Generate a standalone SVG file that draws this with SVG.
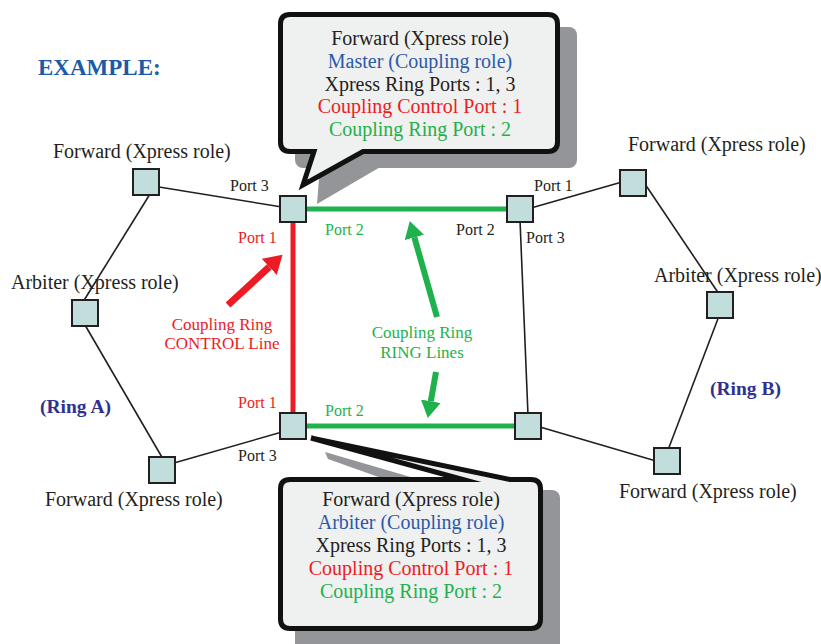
<svg xmlns="http://www.w3.org/2000/svg" width="821" height="644" viewBox="0 0 821 644">
<style>
text{font-family:"Liberation Serif","Times New Roman",serif;}
.lbl{font-size:20px;fill:#231f20;}
.port{font-size:16px;fill:#231f20;}
.red{fill:#ed1c24;}
.green{fill:#1fb14c;}
.blue{fill:#2b5aa8;}
.ring{font-size:19.5px;font-weight:bold;fill:#2e3192;}
.node{fill:#c1dedd;stroke:#231f20;stroke-width:2;}
.thin{stroke:#231f20;stroke-width:1.6;fill:none;}
.callout{fill:#eff0f0;stroke:#111;stroke-width:5;stroke-linejoin:miter;stroke-miterlimit:10;}
.shadow{fill:#939598;}
.ct{font-size:20px;text-anchor:middle;}
</style>
<defs>
<marker id="headR" markerUnits="userSpaceOnUse" markerWidth="20" markerHeight="24" refX="0" refY="11" orient="auto" viewBox="0 0 20 22">
<path d="M0,0 L18,11 L0,22 z" fill="#ed1c24"/>
</marker>
<marker id="headG" markerUnits="userSpaceOnUse" markerWidth="20" markerHeight="24" refX="0" refY="10" orient="auto" viewBox="0 0 20 20">
<path d="M0,0 L17,10 L0,20 z" fill="#1fb14c"/>
</marker>
</defs>
<rect width="821" height="644" fill="#ffffff"/>

<text x="38" y="75" style="font-size:23px;font-weight:bold;fill:#1c5aa6">EXAMPLE:</text>

<!-- callout shadows -->
<g id="shadows">
<rect class="shadow" x="295" y="27" width="282" height="141" rx="8"/>
<polygon class="shadow" points="320,166 317,204 382,166"/>
<rect class="shadow" x="295" y="490" width="265" height="170" rx="8"/>
<polygon class="shadow" points="325,452 328,459 415,490 455,490"/>
</g>

<g id="connectors">
<line class="thin" x1="159" y1="187" x2="282" y2="207"/>
<line class="thin" x1="150" y1="194" x2="83" y2="302"/>
<line class="thin" x1="85" y1="325" x2="163" y2="459"/>
<line class="thin" x1="174" y1="463" x2="282" y2="432"/>
<line class="thin" x1="531" y1="208" x2="622" y2="182"/>
<line class="thin" x1="645" y1="184" x2="719" y2="294"/>
<line class="thin" x1="719" y1="316" x2="668" y2="450"/>
<line class="thin" x1="656" y1="461" x2="540" y2="427"/>
<line class="thin" x1="520" y1="220" x2="528" y2="415"/>
<line x1="293" y1="209" x2="293" y2="426" stroke="#ed1c24" stroke-width="5"/>
<line x1="293" y1="209" x2="520" y2="209" stroke="#1fb14c" stroke-width="5"/>
<line x1="293" y1="426" x2="528" y2="426" stroke="#1fb14c" stroke-width="5"/>
<line x1="228" y1="305" x2="269.3" y2="266.9" stroke="#ed1c24" stroke-width="7" marker-end="url(#headR)"/>
<line x1="437" y1="317" x2="414.4" y2="237.4" stroke="#1fb14c" stroke-width="6" marker-end="url(#headG)"/>
<line x1="436" y1="372" x2="430.8" y2="401.2" stroke="#1fb14c" stroke-width="6" marker-end="url(#headG)"/>
</g>

<!-- Ring A -->
<g id="ringA-forward-top">
<rect class="node" x="133" y="169" width="26" height="26"/>
<text class="lbl" x="53" y="158">Forward (Xpress role)</text>
</g>
<g id="ringA-arbiter">
<rect class="node" x="72" y="300" width="26" height="26"/>
<text class="lbl" x="11" y="289">Arbiter (Xpress role)</text>
</g>
<g id="ringA-forward-bottom">
<rect class="node" x="149" y="457" width="26" height="26"/>
<text class="lbl" x="45" y="506">Forward (Xpress role)</text>
</g>
<text class="ring" x="40" y="413">(Ring A)</text>

<g id="coupling-master">
<rect class="node" x="280" y="196" width="26" height="26"/>
<text class="port" x="230" y="191">Port 3</text>
<text class="port red" x="238" y="243">Port 1</text>
<text class="port green" x="325" y="235">Port 2</text>
</g>
<g id="coupling-arbiter">
<rect class="node" x="280" y="413" width="26" height="26"/>
<text class="port red" x="238" y="408">Port 1</text>
<text class="port" x="238" y="461">Port 3</text>
<text class="port green" x="325" y="416">Port 2</text>
</g>

<!-- Ring B -->
<g id="ringB-coupling-top">
<rect class="node" x="507" y="196" width="26" height="26"/>
<text class="port" x="534" y="191">Port 1</text>
<text class="port" x="526" y="243">Port 3</text>
<text class="port" x="456" y="235">Port 2</text>
</g>
<g id="ringB-forward-top">
<rect class="node" x="620" y="170" width="26" height="26"/>
<text class="lbl" x="628" y="151">Forward (Xpress role)</text>
</g>
<g id="ringB-arbiter">
<rect class="node" x="707" y="292" width="26" height="26"/>
<text class="lbl" x="654" y="282">Arbiter (Xpress role)</text>
</g>
<g id="ringB-forward-bottom">
<rect class="node" x="654" y="448" width="26" height="26"/>
<text class="lbl" x="619" y="498">Forward (Xpress role)</text>
</g>
<g id="ringB-coupling-bottom">
<rect class="node" x="515" y="413" width="26" height="26"/>
</g>
<text class="ring" x="710" y="395">(Ring B)</text>

<g id="label-control">
<text class="red" x="222" y="330" style="font-size:17px;text-anchor:middle">Coupling Ring</text>
<text class="red" x="222" y="349" style="font-size:17px;text-anchor:middle">CONTROL Line</text>
</g>
<g id="label-ring">
<text class="green" x="422" y="338" style="font-size:17px;text-anchor:middle">Coupling Ring</text>
<text class="green" x="422" y="358" style="font-size:17px;text-anchor:middle">RING Lines</text>
</g>

<g id="callout-master">
<path class="callout" d="M290,14.5 H548 Q557.5,14.5 557.5,24 V142 Q557.5,151.5 548,151.5 H363 L303,185 L314,151.5 H290 Q280.5,151.5 280.5,142 V24 Q280.5,14.5 290,14.5 Z"/>
<text class="ct" x="420" y="45" fill="#231f20">Forward (Xpress role)</text>
<text class="ct blue" x="420" y="68">Master (Coupling role)</text>
<text class="ct" x="420" y="91" fill="#231f20">Xpress Ring Ports : 1, 3</text>
<text class="ct red" x="420" y="113">Coupling Control Port : 1</text>
<text class="ct green" x="420" y="136">Coupling Ring Port : 2</text>
</g>

<g id="callout-arbiter">
<path class="callout" d="M290,479.5 H463 L311,438 L510,479.5 H531 Q540.5,479.5 540.5,489 V619 Q540.5,628.5 531,628.5 H290 Q280.5,628.5 280.5,619 V489 Q280.5,479.5 290,479.5 Z"/>
<text class="ct" x="411" y="506" fill="#231f20">Forward (Xpress role)</text>
<text class="ct blue" x="411" y="529">Arbiter (Coupling role)</text>
<text class="ct" x="411" y="552" fill="#231f20">Xpress Ring Ports : 1, 3</text>
<text class="ct red" x="411" y="575">Coupling Control Port : 1</text>
<text class="ct green" x="411" y="598">Coupling Ring Port : 2</text>
</g>
</svg>
